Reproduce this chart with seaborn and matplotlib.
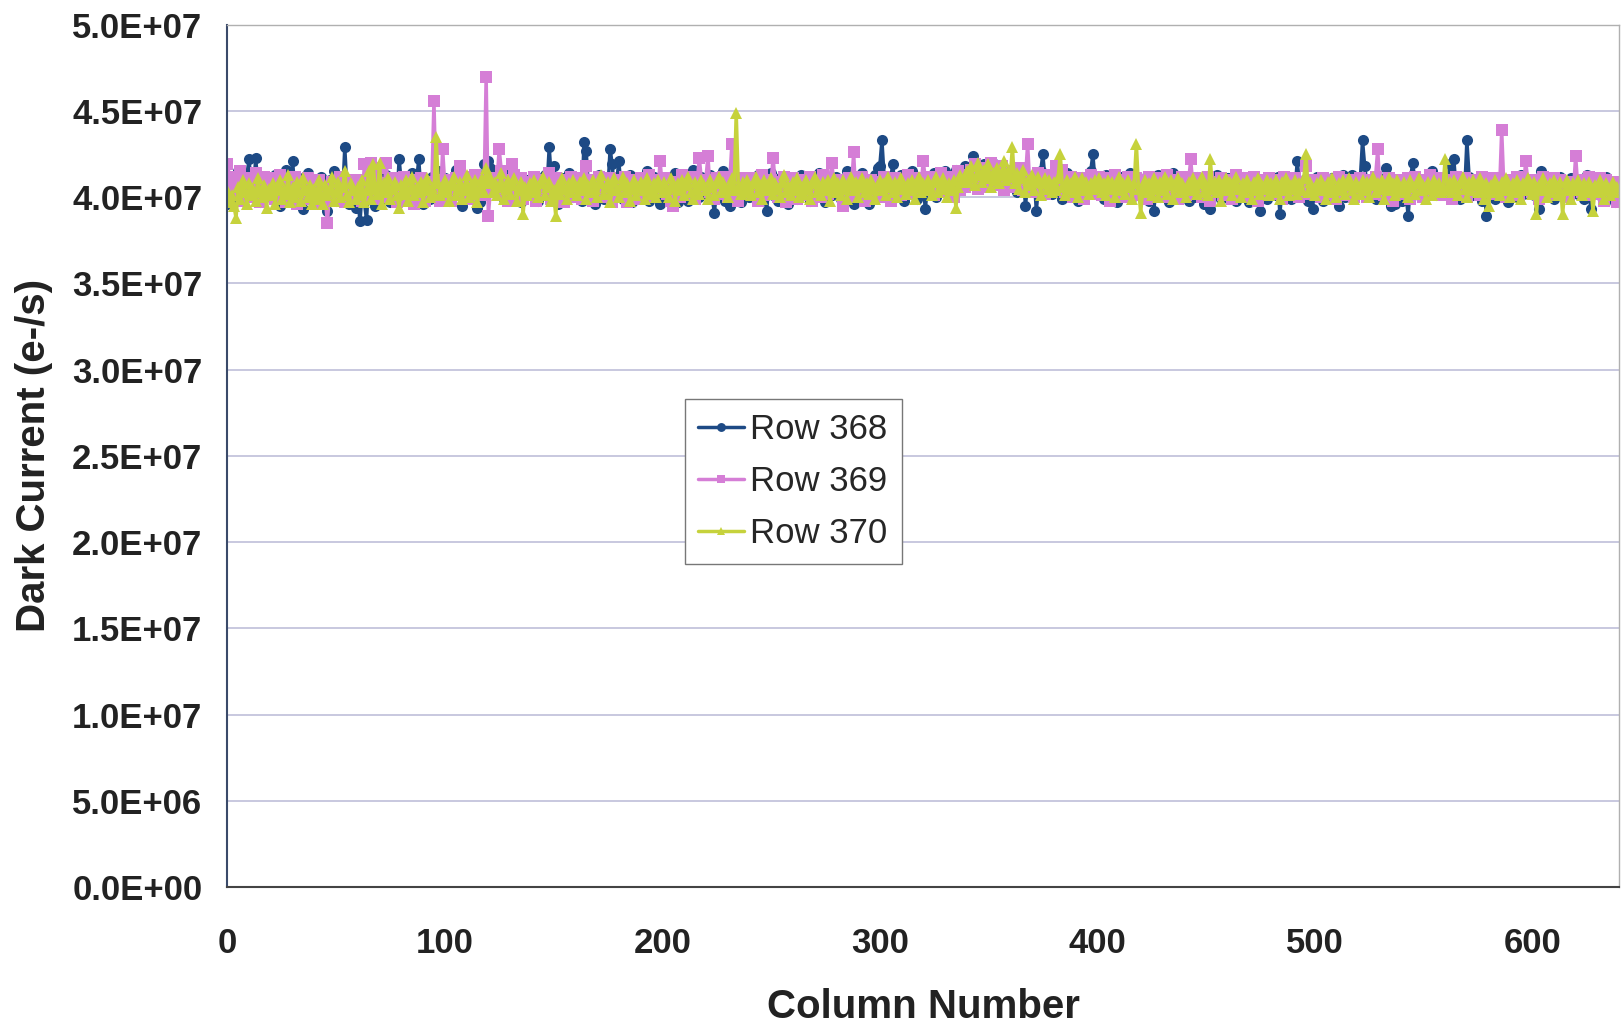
import numpy as np
import pandas as pd
import matplotlib
matplotlib.use("Agg")
import matplotlib.pyplot as plt
import seaborn as sns
from matplotlib.ticker import FuncFormatter

# Dark current per column, in units of 1e5 e-/s
row_368 = [
    396, 404, 411, 399, 407, 415, 402, 398, 409, 413, 422, 405, 400, 423, 408, 397, 410, 404, 412, 401,
    406, 399, 413, 408, 395, 410, 403, 416, 400, 407, 421, 404, 398, 411, 405, 393, 409, 414, 402, 406,
    400, 408, 397, 412, 405, 399, 392, 410, 403, 415, 398, 406, 411, 401, 429, 404, 396, 409, 402, 394,
    399, 386, 404, 397, 387, 408, 401, 412, 395, 406, 410, 399, 404, 413, 402, 397, 409, 405, 400, 422,
    408, 403, 411, 398, 406, 414, 401, 409, 422, 404, 396, 410, 405, 399, 412, 402, 407, 415, 400, 406,
    411, 403, 398, 409, 405, 416, 401, 407, 395, 412, 404, 399, 410, 406, 402, 394, 397, 408, 419, 404,
    421, 417, 408, 413, 402, 410, 405, 399, 411, 404, 408, 415, 400, 406, 412, 397, 409, 403, 410, 405,
    407, 401, 412, 398, 409, 404, 413, 406, 429, 410, 418, 402, 396, 408, 411, 403, 399, 414, 405, 400,
    409, 404, 412, 398, 432, 427, 406, 401, 410, 396, 407, 413, 403, 399, 411, 405, 428, 419, 402, 408,
    421, 406, 399, 410, 404, 413, 397, 408, 402, 411, 405, 400, 409, 415, 398, 406, 412, 403, 407, 396,
    410, 404, 399, 412, 406, 401, 414, 397, 408, 403, 411, 405, 398, 409, 416, 402, 407, 400, 412, 405,
    408, 402, 413, 399, 391, 406, 410, 403, 415, 398, 404, 395, 409, 401, 412, 405, 397, 410, 403, 407,
    400, 411, 406, 399, 413, 404, 408, 402, 392, 409, 414, 401, 407, 398, 411, 405, 403, 410, 396, 408,
    404, 412, 399, 407, 413, 402, 409, 405, 398, 411, 406, 400, 414, 403, 408, 397, 410, 405, 401, 409,
    412, 404, 399, 410, 406, 415, 402, 408, 396, 411, 403, 409, 414, 400, 406, 396, 410, 404, 413, 417,
    418, 433, 412, 408, 403, 411, 419, 405, 400, 409, 413, 398, 406, 410, 402, 415, 404, 399, 408, 411,
    405, 393, 410, 402, 408, 414, 400, 411, 406, 403, 415, 409, 403, 412, 407, 416, 410, 404, 413, 418,
    411, 408, 415, 424, 410, 417, 406, 413, 419, 409, 416, 411, 420, 407, 414, 418, 410, 415, 406, 412,
    414, 409, 417, 403, 411, 406, 413, 395, 408, 410, 404, 412, 392, 407, 415, 425, 410, 405, 411, 402,
    408, 413, 404, 410, 399, 407, 414, 402, 409, 405, 411, 398, 406, 412, 403, 410, 407, 415, 425, 409,
    404, 411, 406, 399, 413, 402, 408, 404, 410, 397, 407, 412, 401, 409, 405, 414, 400, 408, 403, 411,
    406, 401, 410, 404, 398, 408, 392, 405, 413, 400, 409, 403, 411, 397, 407, 414, 402, 412, 406, 410,
    403, 409, 398, 411, 405, 400, 412, 404, 408, 396, 410, 406, 393, 407, 401, 413, 405, 399, 409, 404,
    411, 403, 407, 400, 398, 410, 405, 412, 402, 408, 397, 409, 404, 411, 406, 392, 403, 410, 399, 407,
    404, 409, 401, 412, 390, 406, 410, 403, 408, 399, 411, 405, 421, 407, 402, 410, 404, 398, 409, 393,
    407, 412, 403, 409, 398, 410, 405, 401, 411, 404, 408, 395, 406, 413, 400, 409, 403, 413, 407, 410,
    404, 411, 433, 418, 408, 402, 410, 405, 399, 412, 406, 403, 409, 417, 401, 395, 407, 396, 410, 404,
    398, 406, 402, 389, 409, 420, 411, 404, 408, 400, 410, 405, 403, 412, 415, 406, 401, 409, 404, 412,
    407, 403, 419, 410, 422, 405, 411, 399, 408, 404, 433, 412, 406, 401, 409, 403, 410, 398, 405, 389,
    404, 410, 406, 399, 412, 403, 408, 405, 401, 397, 409, 404, 411, 400, 407, 413, 402, 408, 405, 410,
    406, 401, 409, 393, 415, 404, 410, 402, 407, 411, 399, 408, 405, 412, 403, 409, 400, 406, 411, 404,
    408, 402, 410, 405, 399, 413, 406, 393, 409, 403, 411, 404, 400, 408, 412, 402, 407, 405, 397, 403,
]

row_369 = [
    419, 412, 404, 410, 401, 408, 415, 398, 406, 411, 403, 409, 400, 414, 405, 397, 408, 412, 402, 407,
    404, 411, 399, 408, 413, 402, 406, 397, 410, 405, 401, 412, 396, 407, 403, 409, 399, 411, 404, 400,
    408, 402, 410, 396, 405, 399, 385, 403, 409, 398, 406, 401, 412, 404, 397, 408, 402, 410, 399, 405,
    403, 410, 398, 419, 407, 401, 420, 405, 412, 399, 417, 408, 402, 420, 406, 400, 411, 404, 397, 409,
    405, 412, 399, 408, 403, 410, 396, 407, 402, 411, 404, 398, 409, 401, 406, 456, 403, 410, 398, 428,
    407, 402, 410, 398, 405, 411, 403, 418, 409, 400, 412, 404, 399, 408, 413, 402, 406, 410, 401, 470,
    389, 405, 411, 403, 409, 428, 415, 402, 408, 398, 410, 419, 413, 400, 406, 411, 399, 407, 403, 409,
    405, 412, 398, 408, 403, 410, 401, 407, 414, 399, 406, 411, 402, 409, 404, 397, 410, 405, 412, 400,
    408, 403, 411, 399, 406, 418, 404, 410, 398, 407, 402, 412, 405, 400, 409, 403, 411, 397, 406, 410,
    404, 409, 401, 412, 397, 407, 403, 410, 405, 399, 411, 406, 402, 408, 413, 400, 405, 410, 403, 421,
    406, 411, 402, 408, 398, 395, 404, 409, 400, 413, 405, 401, 407, 412, 403, 399, 408, 423, 410, 404,
    410, 424, 403, 408, 399, 411, 405, 402, 412, 407, 400, 409, 431, 404, 410, 398, 406, 403, 411, 405,
    402, 409, 404, 411, 398, 406, 413, 401, 408, 403, 410, 423, 405, 400, 409, 404, 412, 397, 407, 403,
    411, 405, 399, 408, 403, 410, 406, 401, 412, 398, 407, 404, 409, 400, 413, 405, 402, 410, 420, 406,
    403, 410, 405, 395, 408, 402, 411, 406, 426, 400, 409, 404, 412, 398, 407, 403, 410, 405, 401, 409,
    406, 400, 412, 404, 409, 398, 407, 411, 403, 408, 401, 410, 405, 413, 402, 406, 409, 404, 411, 407,
    421, 410, 404, 412, 407, 401, 411, 405, 414, 408, 403, 410, 406, 412, 400, 409, 415, 404, 411, 406,
    413, 408, 416, 410, 419, 405, 412, 417, 409, 414, 406, 420, 411, 407, 415, 410, 418, 404, 413, 409,
    415, 410, 406, 413, 408, 417, 404, 411, 431, 407, 412, 403, 409, 414, 405, 410, 402, 408, 413, 406,
    411, 418, 405, 410, 416, 403, 409, 407, 412, 400, 408, 404, 411, 406, 399, 410, 405, 413, 402, 409,
    406, 412, 401, 409, 404, 411, 398, 407, 413, 403, 410, 405, 400, 408, 412, 404, 409, 401, 411, 406,
    403, 410, 406, 399, 412, 405, 408, 402, 411, 404, 409, 400, 413, 406, 402, 410, 405, 399, 408, 412,
    405, 401, 409, 422, 406, 411, 403, 408, 400, 410, 404, 412, 398, 407, 403, 409, 405, 411, 401, 408,
    410, 404, 399, 408, 413, 402, 407, 411, 405, 400, 409, 403, 412, 406, 398, 410, 404, 408, 401, 411,
    406, 402, 410, 404, 409, 399, 412, 405, 401, 408, 403, 411, 406, 400, 409, 404, 418, 407, 402, 410,
    403, 409, 405, 400, 411, 406, 402, 410, 404, 408, 399, 412, 405, 401, 409, 403, 410, 406, 400, 408,
    405, 411, 403, 408, 400, 410, 406, 402, 412, 428, 404, 409, 401, 407, 411, 403, 398, 408, 405, 410,
    402, 409, 404, 411, 399, 407, 412, 403, 408, 405, 400, 410, 406, 413, 402, 409, 404, 407, 411, 401,
    408, 404, 410, 399, 406, 412, 402, 409, 405, 411, 400, 407, 403, 410, 404, 408, 401, 412, 406, 403,
    409, 405, 411, 402, 408, 404, 439, 406, 400, 410, 403, 409, 405, 412, 401, 407, 404, 421, 410, 406,
    403, 410, 405, 399, 408, 412, 404, 409, 401, 407, 411, 403, 406, 410, 402, 408, 405, 400, 409, 404,
    424, 406, 410, 403, 408, 401, 412, 405, 409, 402, 407, 411, 404, 398, 410, 406, 403, 409, 401, 397,
]

row_370 = [
    404, 397, 401, 395, 388, 406, 399, 410, 403, 396, 408, 401, 405, 398, 411, 403, 400, 407, 394, 405,
    401, 408, 396, 404, 410, 399, 405, 402, 413, 397, 406, 400, 409, 403, 398, 411, 404, 400, 407, 396,
    405, 399, 410, 402, 396, 407, 401, 404, 412, 398, 403, 409, 400, 406, 415, 401, 397, 408, 404, 399,
    406, 401, 410, 397, 404, 415, 399, 419, 405, 402, 420, 396, 408, 403, 411, 399, 405, 409, 401, 394,
    407, 402, 410, 398, 405, 412, 401, 406, 403, 409, 397, 404, 411, 400, 406, 402, 435, 408, 401, 405,
    410, 403, 398, 407, 412, 401, 405, 409, 399, 404, 413, 400, 407, 402, 410, 397, 406, 411, 403, 417,
    408, 412, 403, 409, 401, 406, 414, 399, 405, 410, 402, 407, 411, 398, 404, 409, 390, 406, 401, 408,
    403, 410, 405, 400, 408, 412, 401, 406, 409, 398, 404, 389, 407, 402, 411, 405, 399, 408, 403, 410,
    406, 401, 409, 404, 411, 399, 407, 403, 410, 405, 400, 408, 413, 402, 406, 409, 397, 404, 411, 405,
    400, 407, 412, 403, 408, 398, 405, 410, 401, 406, 409, 404, 399, 411, 405, 402, 408, 400, 410, 406,
    403, 409, 405, 400, 411, 406, 398, 408, 404, 410, 401, 407, 412, 403, 399, 409, 405, 402, 410, 407,
    404, 399, 410, 406, 401, 408, 412, 403, 409, 405, 400, 407, 411, 404, 449, 406, 402, 409, 403, 410,
    405, 401, 408, 412, 403, 407, 399, 410, 404, 406, 411, 402, 408, 405, 400, 409, 413, 403, 407, 401,
    409, 404, 411, 400, 406, 402, 410, 405, 399, 408, 412, 403, 407, 401, 409, 404, 410, 398, 406, 411,
    403, 408, 401, 410, 405, 399, 407, 412, 404, 409, 400, 406, 411, 403, 408, 402, 410, 405, 399, 407,
    410, 404, 408, 401, 412, 406, 403, 409, 400, 407, 411, 405, 402, 408, 404, 410, 399, 406, 412, 403,
    408, 404, 410, 406, 401, 409, 412, 403, 407, 411, 405, 400, 408, 404, 410, 394, 406, 413, 409, 411,
    415, 409, 418, 412, 407, 420, 413, 409, 416, 411, 419, 406, 414, 410, 417, 408, 413, 421, 410, 415,
    412, 429, 408, 414, 405, 411, 416, 403, 410, 407, 413, 404, 409, 412, 401, 408, 411, 405, 410, 403,
    409, 404, 411, 425, 406, 401, 410, 405, 408, 403, 412, 400, 407, 411, 404, 409, 402, 408, 405, 410,
    406, 411, 403, 408, 401, 410, 405, 409, 400, 407, 412, 404, 408, 402, 410, 406, 399, 408, 431, 405,
    391, 406, 410, 403, 408, 401, 411, 405, 400, 409, 404, 412, 402, 407, 410, 399, 406, 411, 403, 408,
    405, 400, 409, 404, 411, 406, 402, 408, 412, 403, 407, 401, 422, 405, 409, 403, 410, 398, 407, 411,
    404, 409, 401, 407, 412, 405, 400, 408, 403, 410, 406, 399, 409, 404, 411, 402, 407, 405, 410, 401,
    408, 403, 410, 405, 399, 409, 404, 411, 401, 407, 405, 410, 402, 408, 404, 411, 425, 403, 409, 405,
    401, 408, 404, 410, 406, 399, 409, 403, 411, 405, 400, 408, 404, 410, 402, 407, 411, 404, 399, 409,
    406, 402, 410, 404, 409, 400, 407, 412, 403, 408, 405, 410, 399, 406, 411, 404, 408, 401, 410, 405,
    403, 409, 405, 400, 410, 406, 402, 408, 411, 404, 407, 399, 409, 405, 401, 410, 404, 408, 403, 406,
    422, 404, 409, 403, 410, 406, 401, 408, 412, 405, 400, 409, 404, 410, 407, 403, 411, 405, 399, 408,
    395, 407, 403, 410, 405, 401, 409, 404, 411, 406, 400, 408, 403, 410, 405, 399, 408, 404, 411, 406,
    402, 409, 390, 407, 404, 411, 405, 400, 408, 403, 410, 406, 401, 409, 390, 404, 410, 405, 399, 408,
    404, 410, 405, 401, 408, 403, 409, 406, 392, 407, 403, 410, 404, 399, 408, 405, 401, 409, 403, 406,
]

series_names = ["Row 368", "Row 369", "Row 370"]
series_values = [row_368, row_369, row_370]
series_colors = ["#1d4a85", "#d57ed6", "#c6d23c"]
series_markers = ["o", "s", "^"]
UNIT = 1e5

y_ticks = [i * 5e6 for i in range(11)]
x_ticks = [0, 100, 200, 300, 400, 500, 600]

frames = []
for name, vals in zip(series_names, series_values):
    frames.append(pd.DataFrame({
        "Column": np.arange(len(vals)),
        "Dark": np.asarray(vals, dtype=float) * UNIT,
        "Series": name,
    }))
df = pd.concat(frames, ignore_index=True)

sns.set_theme(style="white")
plt.rcParams["font.family"] = ["Liberation Sans", "DejaVu Sans"]

fig = plt.figure(figsize=(16.24, 10.32), dpi=100)
ax = fig.add_axes([0.140, 0.1405, 0.857, 0.8355])

for name, color, marker in zip(series_names, series_colors, series_markers):
    sub = df[df["Series"] == name]
    sns.lineplot(data=sub, x="Column", y="Dark", ax=ax, color=color,
                 marker=marker, markersize=8, markeredgewidth=0,
                 linewidth=2.5, label=name, estimator=None, sort=False)

ax.set_xlim(0, 640)
ax.set_ylim(0, 5e7)
ax.set_yticks(y_ticks)
ax.set_xticks(x_ticks)
ax.yaxis.set_major_formatter(FuncFormatter(lambda v, p: f"{v:.1E}"))
ax.yaxis.grid(True, color="#c4c4dc", linewidth=1.3)
ax.xaxis.grid(False)

for lab in ax.get_yticklabels() + ax.get_xticklabels():
    lab.set_fontweight("bold")
    lab.set_fontsize(25)
    lab.set_color("#222222")
ax.tick_params(axis="y", pad=18, length=0)
ax.tick_params(axis="x", pad=29, length=0)

ax.set_xlabel("Column Number", fontsize=29, fontweight="bold",
              color="#222222", labelpad=20)
ax.set_ylabel("Dark Current (e-/s)", fontsize=29, fontweight="bold",
              color="#222222", labelpad=14)

for side in ["top", "right"]:
    ax.spines[side].set_color("#b0b0b0")
    ax.spines[side].set_linewidth(1.0)
ax.spines["left"].set_color("#3a4a6a")
ax.spines["left"].set_linewidth(1.5)
ax.spines["bottom"].set_color("#444444")
ax.spines["bottom"].set_linewidth(1.5)

leg = ax.legend(loc="upper left", bbox_to_anchor=(0.316, 0.586),
                fontsize=25, frameon=True, fancybox=False,
                edgecolor="#777777", framealpha=1.0, handlelength=1.3,
                handletextpad=0.2, labelspacing=0.55, borderpad=0.4,
                markerscale=0.8)
leg.get_frame().set_linewidth(1.0)

fig.savefig("out.png", dpi=100)
